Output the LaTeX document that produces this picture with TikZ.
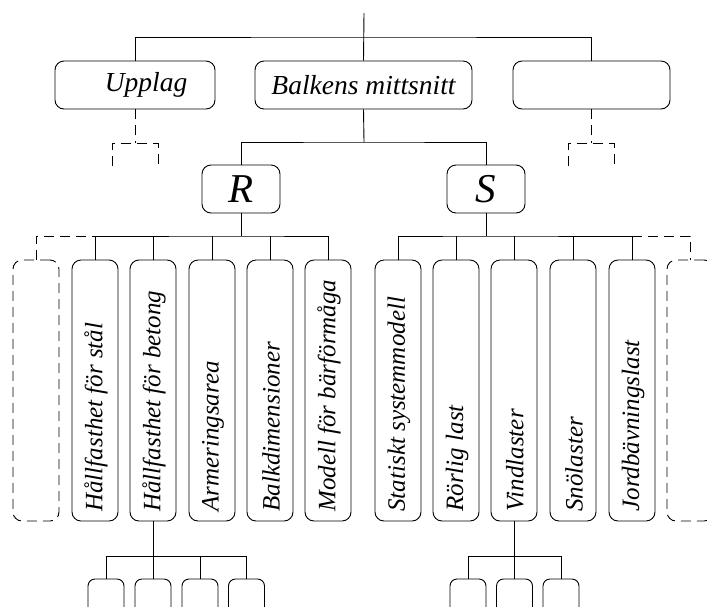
\documentclass[tikz,border=0pt]{standalone}
\usepackage{fontspec}
\setmainfont{Liberation Serif}
\begin{document}
\begin{tikzpicture}[x=1pt,y=-1pt,
  line width=0.9pt,
  box/.style={draw, rounded corners=9pt, inner sep=0pt},
  dbox/.style={box, dash pattern=on 10pt off 6pt},
  dline/.style={dash pattern=on 10pt off 6pt},
  toplabel/.style={font=\fontsize{27.5}{32}\selectfont\itshape},
  biglabel/.style={font=\fontsize{41}{46}\selectfont\itshape},
  vlabel/.style={font=\fontsize{25}{29}\selectfont\itshape, rotate=90, anchor=west, inner sep=0pt},
  kid/.style={box, minimum width=46pt, minimum height=261pt},
  dkid/.style={dbox, minimum width=46pt, minimum height=261pt},
  small/.style={box, rounded corners=7pt, minimum width=36pt, minimum height=44pt}
]
\useasboundingbox (0,0) rectangle (707,606);

% top level
\coordinate (top) at (364,13);
\coordinate (j1) at (364,37);
\node[box, toplabel, minimum width=160pt, minimum height=48pt] (upplag) at (135,85) {\hspace*{22pt}Upplag};
\node[box, toplabel, minimum width=217pt, minimum height=48pt] (balk) at (363.5,85) {Balkens mittsnitt};
\node[box, minimum width=157pt, minimum height=48pt] (empty) at (591.5,85) {};
\draw (top) -- (balk.north);
\draw (upplag.north) |- (j1) -| (empty.north);

% dashed brackets under Upplag and empty box
\coordinate (ulm) at (135,143);
\coordinate (ul1) at (112,166);
\coordinate (ul2) at (158,166);
\draw[dline] (upplag.south) -- (ulm);
\draw[dline] (ul1) |- (ulm) -| (ul2);
\coordinate (urm) at (591.5,143);
\coordinate (ur1) at (568,166);
\coordinate (ur2) at (614,166);
\draw[dline] (empty.south) -- (urm);
\draw[dline] (ur1) |- (urm) -| (ur2);

% R and S
\coordinate (j2) at (364,142);
\node[box, biglabel, minimum width=78pt, minimum height=48pt] (R) at (241,189) {R};
\node[box, biglabel, minimum width=78pt, minimum height=48pt] (S) at (486,189) {S};
\draw (balk.south) -- (j2);
\draw (R.north) |- (j2) -| (S.north);

% children of R
\node[dkid] (l0) at (36,390.5) {};
\node[kid] (l1) at (95,390.5) {};
\node[kid] (l2) at (153,390.5) {};
\node[kid] (l3) at (212,390.5) {};
\node[kid] (l4) at (270,390.5) {};
\node[kid] (l5) at (328,390.5) {};
\node[vlabel] (t1) at (96,512) {Hållfasthet för stål};
\node[vlabel] (t2) at (154,512) {Hållfasthet för betong};
\node[vlabel] (t3) at (213,512) {Armeringsarea};
\node[vlabel] (t4) at (271,512) {Balkdimensioner};
\node[vlabel] (t5) at (329,512) {Modell för bärförmåga};
\coordinate (j3) at (241,236);
\draw (R.south) -- (j3);
\draw (l1.north) |- (j3) -| (l5.north);
\foreach \n in {l2,l3,l4} \draw (\n.north) -- (\n.north |- j3);
\draw[dline] (l0.north) |- (l1.north |- j3);

% children of S
\node[kid] (r1) at (398,390.5) {};
\node[kid] (r2) at (456,390.5) {};
\node[kid] (r3) at (514,390.5) {};
\node[kid] (r4) at (573,390.5) {};
\node[kid] (r5) at (632,390.5) {};
\node[dkid] (r6) at (690,390.5) {};
\node[vlabel] (s1) at (399,512) {Statiskt systemmodell};
\node[vlabel] (s2) at (457,512) {Rörlig last};
\node[vlabel] (s3) at (515,512) {Vindlaster};
\node[vlabel] (s4) at (574,512) {Snölaster};
\node[vlabel] (s5) at (633,512) {Jordbävningslast};
\coordinate (j4) at (486,236);
\draw (S.south) -- (j4);
\draw (r1.north) |- (j4) -| (r5.north);
\foreach \n in {r2,r3,r4} \draw (\n.north) -- (\n.north |- j4);
\draw[dline] (r5.north |- j4) -| (r6.north);

% bottom level under Hållfasthet för betong
\coordinate (j5) at (153,556);
\node[small] (b1) at (106,601) {};
\node[small] (b2) at (153,601) {};
\node[small] (b3) at (200,601) {};
\node[small] (b4) at (246.5,601) {};
\draw (l2.south) -- (j5);
\draw (b1.north) |- (j5) -| (b4.north);
\draw (b2.north) -- (j5);
\draw (b3.north) -- (b3.north |- j5);

% bottom level under Vindlaster
\coordinate (j6) at (514,556);
\node[small] (c1) at (468,601) {};
\node[small] (c2) at (514.5,601) {};
\node[small] (c3) at (561,601) {};
\draw (r3.south) -- (j6);
\draw (c1.north) |- (j6) -| (c3.north);
\draw (c2.north) -- (c2.north |- j6);
\end{tikzpicture}
\end{document}
